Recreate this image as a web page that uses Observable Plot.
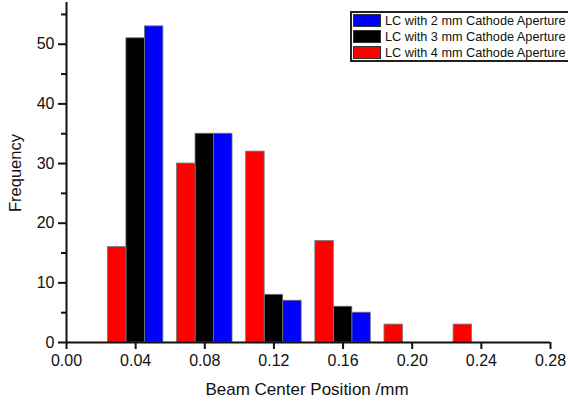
<!DOCTYPE html>
<html><head><meta charset="utf-8">
<script src="https://cdn.jsdelivr.net/npm/d3@7"></script>
<script src="https://cdn.jsdelivr.net/npm/@observablehq/plot@0.6"></script>
<style>
html,body{margin:0;padding:0;background:#fff;overflow:hidden;}
#wrap{position:relative;width:568px;height:404px;overflow:hidden;font-family:"Liberation Sans",Arial,sans-serif;color:#111;}
#wrap svg{position:absolute;left:0;top:0;}
.legend{position:absolute;left:350px;top:11px;width:240px;height:47px;border:2px solid #222;background:#fff;}
.row{position:absolute;left:1px;height:14px;font-size:12.7px;line-height:14px;white-space:nowrap;}
.sw{position:absolute;left:0;top:0;width:28px;height:13px;border:1px solid #333;box-sizing:border-box;}
.lab{position:absolute;left:32px;top:0;}
.ytitle{position:absolute;left:15px;top:173px;font-size:16.5px;transform:translate(-50%,-50%) rotate(-90deg);white-space:nowrap;}
.xtitle{position:absolute;left:307px;top:380px;font-size:17px;transform:translateX(-50%);white-space:nowrap;}
</style></head><body><div id="wrap"></div>
<script>
const seriesNames = ["LC with 2 mm Cathode Aperture", "LC with 3 mm Cathode Aperture", "LC with 4 mm Cathode Aperture"];
const seriesColors = ["#0000ff", "#000000", "#ff0000"];
const bins2mm = [0.04, 0.08, 0.12, 0.16];
const counts2mm = [53, 35, 7, 5];
const bins3mm = [0.04, 0.08, 0.12, 0.16];
const counts3mm = [51, 35, 8, 6];
const bins4mm = [0.04, 0.08, 0.12, 0.16, 0.20, 0.24];
const counts4mm = [16, 30, 32, 17, 3, 3];
const xTicks = [0, 0.04, 0.08, 0.12, 0.16, 0.20, 0.24, 0.28];
const yTicks = [0, 10, 20, 30, 40, 50];
const yMinorTicks = [5, 15, 25, 35, 45, 55];
const xLabel = "Beam Center Position /mm";
const yLabel = "Frequency";

// layout: side-by-side bar offset within each bin (order: 4 mm, 3 mm, 2 mm)
const barW = 0.0107;
const offsets = [1, 0, -1];
const allBins = [bins2mm, bins3mm, bins4mm];
const allCounts = [counts2mm, counts3mm, counts4mm];
const rows = [];
allBins.forEach((bs, s) => bs.forEach((b, i) => {
  const c = b + offsets[s] * barW;
  rows.push({series: seriesNames[s], x1: c - barW / 2, x2: c + barW / 2, y: allCounts[s][i]});
}));

const chart = Plot.plot({
  width: 568, height: 404,
  marginLeft: 66, marginRight: 18, marginTop: 2, marginBottom: 62,
  style: {fontFamily: '"Liberation Sans", Arial, sans-serif', fontSize: "16px", color: "#111", background: "transparent"},
  x: {domain: [0, 0.28]},
  y: {domain: [0, 57]},
  color: {domain: seriesNames, range: seriesColors},
  marks: [
    Plot.rectY(rows, {x1: "x1", x2: "x2", y: "y", fill: "series", stroke: "#777", strokeWidth: 0.8}),
    Plot.axisX({ticks: xTicks, tickSize: 7, tickPadding: 5, strokeWidth: 2, tickFormat: d => d.toFixed(2), label: null}),
    Plot.axisY({ticks: yTicks, tickSize: 8, tickPadding: 4, strokeWidth: 2, tickFormat: d => String(d), label: null}),
    Plot.axisY({ticks: yMinorTicks, tickSize: 5, strokeWidth: 2, tickFormat: () => "", label: null}),
    Plot.ruleX([0], {strokeWidth: 2, stroke: "#111"}),
    Plot.ruleY([0], {strokeWidth: 2, stroke: "#111"})
  ]
});
const wrap = document.getElementById("wrap");
wrap.appendChild(chart);

const leg = document.createElement("div");
leg.className = "legend";
seriesNames.forEach((n, i) => {
  const r = document.createElement("div");
  r.className = "row";
  r.style.top = (1 + i * 16) + "px";
  const sw = document.createElement("div");
  sw.className = "sw";
  sw.style.background = seriesColors[i];
  const t = document.createElement("span");
  t.className = "lab";
  t.textContent = n;
  r.appendChild(sw); r.appendChild(t);
  leg.appendChild(r);
});
wrap.appendChild(leg);

const yt = document.createElement("div");
yt.className = "ytitle"; yt.textContent = yLabel; wrap.appendChild(yt);
const xt = document.createElement("div");
xt.className = "xtitle"; xt.textContent = xLabel; wrap.appendChild(xt);
</script>
</body></html>
